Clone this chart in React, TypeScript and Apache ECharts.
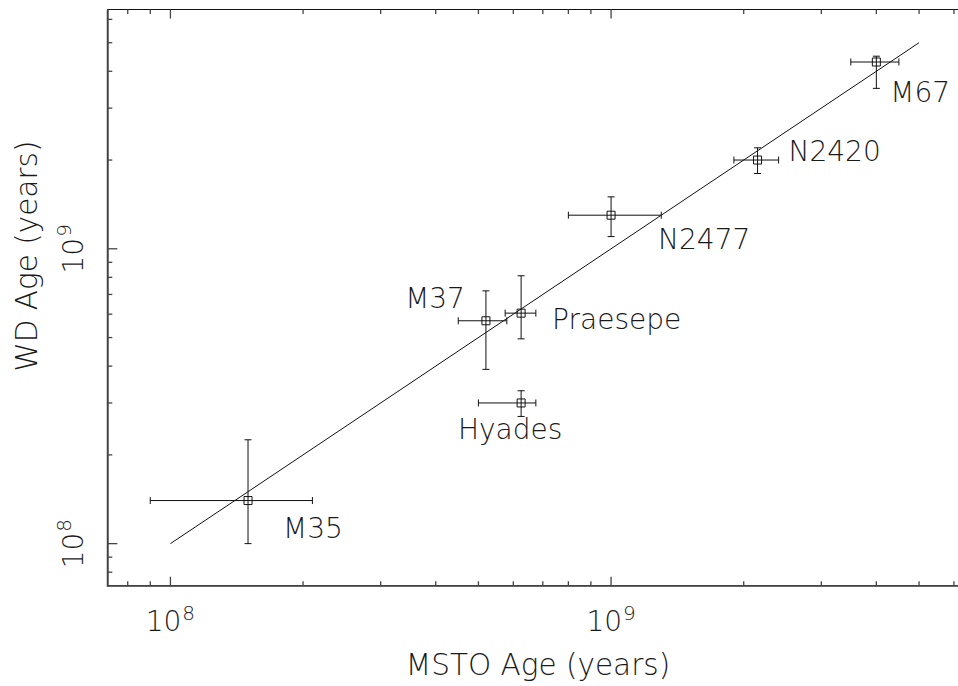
import React, { useEffect, useRef } from 'react';
import * as echarts from 'echarts';

// ---- data ----
const clusters = ['M35', 'Hyades', 'M37', 'Praesepe', 'N2477', 'N2420', 'M67'];
const mstoAge = [1.5e8, 6.25e8, 5.2e8, 6.25e8, 1.0e9, 2.15e9, 4.0e9];
const mstoLow = [9.0e7, 5.0e8, 4.5e8, 5.75e8, 8.0e8, 1.9e9, 3.5e9];
const mstoHigh = [2.1e8, 6.75e8, 5.8e8, 6.75e8, 1.3e9, 2.4e9, 4.5e9];
const wdAge = [1.4e8, 3.0e8, 5.7e8, 6.05e8, 1.3e9, 2.0e9, 4.3e9];
const wdLow = [1.0e8, 2.7e8, 3.9e8, 4.95e8, 1.1e9, 1.8e9, 3.5e9];
const wdHigh = [2.25e8, 3.3e8, 7.2e8, 8.1e8, 1.5e9, 2.2e9, 4.5e9];

const oneToOne = [[1e8, 1e8], [5e9, 5e9]];

const xMajorTicks = [1e8, 1e9];
const xMinorTicks = [8e7, 9e7, 2e8, 3e8, 4e8, 5e8, 6e8, 7e8, 8e8, 9e8, 2e9, 3e9, 4e9, 5e9, 6e9, 7e9, 8e9, 9e9];
const yMajorTicks = [1e8, 1e9];
const yMinorTicks = [8e7, 9e7, 2e8, 3e8, 4e8, 5e8, 6e8, 7e8, 8e8, 9e8, 2e9, 3e9, 4e9, 5e9, 6e9];

const xRange = [7.19e7, 1e10];
const yRange = [7.2e7, 6.48e9];

const xTitle = 'MSTO Age (years)';
const yTitle = 'WD Age (years)';

// ---- styles (label placement relative to the marker, in px) ----
const labelPlacement: Record<string, { dx: number; dy: number; align: string }> = {
  M35: { dx: 35, dy: 28, align: 'left' },
  Hyades: { dx: -11, dy: 27, align: 'center' },
  M37: { dx: -21, dy: -22, align: 'right' },
  Praesepe: { dx: 31, dy: 6, align: 'left' },
  N2477: { dx: 47, dy: 24, align: 'left' },
  N2420: { dx: 31, dy: -9, align: 'left' },
  M67: { dx: 14, dy: 30, align: 'left' },
};

const FONT = '"DejaVu Sans", sans-serif';
const FONT_WEIGHT = 200;
const TEXT_COLOR = '#1a1a1a';
const INK = '#111';
const AXIS_COLOR = '#444';
const TITLE_SIZE = 29.5;

function isPow10(v: number) {
  const l = Math.log10(v);
  return Math.abs(l - Math.round(l)) < 1e-6;
}

function powLabel(v: number) {
  if (!isPow10(v)) return '';
  return `{b|10}{s|${Math.round(Math.log10(v))}}`;
}

const richDef = {
  b: { fontSize: 28, fontFamily: FONT, fontWeight: FONT_WEIGHT, color: TEXT_COLOR, verticalAlign: 'bottom', lineHeight: 34 },
  s: { fontSize: 20, fontFamily: FONT, fontWeight: FONT_WEIGHT, color: TEXT_COLOR, verticalAlign: 'bottom', lineHeight: 34, padding: [0, 0, 13, 1] },
};

export default function App() {
  const ref = useRef<HTMLDivElement>(null);
  useEffect(() => {
    if (!ref.current) return;
    const chart = echarts.init(ref.current, undefined, { renderer: 'svg' });

    const pointData = clusters.map((name, i) => [
      mstoAge[i], wdAge[i], mstoLow[i], mstoHigh[i], wdLow[i], wdHigh[i], i,
    ]);

    const xTickData = [
      ...xMajorTicks.map((v) => [v, yRange[0], 1]),
      ...xMinorTicks.map((v) => [v, yRange[0], 0]),
    ];
    const yTickData = [
      ...yMajorTicks.map((v) => [xRange[0], v, 1]),
      ...yMinorTicks.map((v) => [xRange[0], v, 0]),
    ];

    const option: any = {
      animation: false,
      backgroundColor: '#fff',
      textStyle: { fontFamily: FONT },
      grid: {
        left: 107.3,
        top: 9.5,
        width: 944.4,
        height: 576.2,
        containLabel: false,
        outerBoundsMode: 'none',
        show: true,
        borderColor: INK,
        borderWidth: 1,
        backgroundColor: 'transparent',
      },
      xAxis: {
        type: 'log',
        logBase: 10,
        min: xRange[0],
        max: xRange[1],
        axisLine: { show: true, lineStyle: { color: AXIS_COLOR, width: 1.5 } },
        axisTick: { show: false },
        splitLine: { show: false },
        axisLabel: {
          showMinLabel: false,
          showMaxLabel: false,
          margin: 16,
          formatter: powLabel,
          rich: richDef,
        },
      },
      yAxis: {
        type: 'log',
        logBase: 10,
        min: yRange[0],
        max: yRange[1],
        axisLine: { show: true, lineStyle: { color: AXIS_COLOR, width: 1.5 } },
        axisTick: { show: false },
        splitLine: { show: false },
        axisLabel: {
          showMinLabel: false,
          showMaxLabel: false,
          rotate: 90,
          margin: 20,
          formatter: powLabel,
          rich: richDef,
        },
      },
      graphic: [
        {
          type: 'text',
          x: 538,
          y: 665,
          style: {
            text: xTitle,
            fontSize: TITLE_SIZE,
            fontFamily: FONT,
            fontWeight: FONT_WEIGHT,
            fill: TEXT_COLOR,
            align: 'center',
            verticalAlign: 'middle',
          },
        },
        {
          type: 'text',
          x: 27,
          y: 256,
          rotation: Math.PI / 2,
          style: {
            text: yTitle,
            fontSize: TITLE_SIZE,
            fontFamily: FONT,
            fontWeight: FONT_WEIGHT,
            fill: TEXT_COLOR,
            align: 'center',
            verticalAlign: 'middle',
          },
        },
      ],
      series: [
        {
          type: 'line',
          data: oneToOne,
          symbol: 'none',
          lineStyle: { color: INK, width: 1 },
          silent: true,
          z: 2,
        },
        {
          type: 'custom',
          data: xTickData,
          silent: true,
          renderItem: (params: any, api: any) => {
            const cs = params.coordSys;
            const px = api.coord([api.value(0), api.value(1)])[0];
            const len = api.value(2) ? 9 : 4.5;
            const bottom = cs.y + cs.height;
            const top = cs.y;
            return {
              type: 'group',
              children: [
                { type: 'line', shape: { x1: px, y1: bottom, x2: px, y2: bottom - len }, style: { stroke: AXIS_COLOR, lineWidth: 1.3 } },
                { type: 'line', shape: { x1: px, y1: top, x2: px, y2: top + len }, style: { stroke: AXIS_COLOR, lineWidth: 1.3 } },
              ],
            };
          },
          z: 3,
        },
        {
          type: 'custom',
          data: yTickData,
          silent: true,
          renderItem: (params: any, api: any) => {
            const cs = params.coordSys;
            const py = api.coord([api.value(0), api.value(1)])[1];
            const len = api.value(2) ? 10 : 5;
            const left = cs.x;
            return {
              type: 'line',
              shape: { x1: left, y1: py, x2: left + len, y2: py },
              style: { stroke: AXIS_COLOR, lineWidth: 1.3 },
            };
          },
          z: 3,
        },
        {
          type: 'custom',
          data: pointData,
          silent: true,
          encode: { x: 0, y: 1 },
          renderItem: (params: any, api: any) => {
            const x = api.value(0);
            const y = api.value(1);
            const c = api.coord([x, y]);
            const xl = api.coord([api.value(2), y])[0];
            const xh = api.coord([api.value(3), y])[0];
            const yl = api.coord([x, api.value(4)])[1];
            const yh = api.coord([x, api.value(5)])[1];
            const cap = 3.5;
            const half = 4;
            const name = clusters[api.value(6)];
            const lp = labelPlacement[name];
            const ls = { stroke: INK, lineWidth: 1 };
            return {
              type: 'group',
              children: [
                { type: 'line', shape: { x1: xl, y1: c[1], x2: xh, y2: c[1] }, style: ls },
                { type: 'line', shape: { x1: xl, y1: c[1] - cap, x2: xl, y2: c[1] + cap }, style: ls },
                { type: 'line', shape: { x1: xh, y1: c[1] - cap, x2: xh, y2: c[1] + cap }, style: ls },
                { type: 'line', shape: { x1: c[0], y1: yl, x2: c[0], y2: yh }, style: ls },
                { type: 'line', shape: { x1: c[0] - cap, y1: yl, x2: c[0] + cap, y2: yl }, style: ls },
                { type: 'line', shape: { x1: c[0] - cap, y1: yh, x2: c[0] + cap, y2: yh }, style: ls },
                { type: 'rect', shape: { x: c[0] - half, y: c[1] - half, width: half * 2, height: half * 2 }, style: { stroke: INK, fill: 'none', lineWidth: 1 } },
                {
                  type: 'text',
                  x: c[0] + lp.dx,
                  y: c[1] + lp.dy,
                  style: {
                    text: name,
                    fontSize: 28,
                    fontFamily: FONT,
                    fontWeight: FONT_WEIGHT,
                    fill: TEXT_COLOR,
                    align: lp.align,
                    verticalAlign: 'middle',
                  },
                },
              ],
            };
          },
          z: 4,
        },
      ],
    };

    chart.setOption(option);
    return () => chart.dispose();
  }, []);

  return (
    <div
      ref={ref}
      style={{ position: 'fixed', left: 0, top: 0, width: 958, height: 686, background: '#fff' }}
    />
  );
}
